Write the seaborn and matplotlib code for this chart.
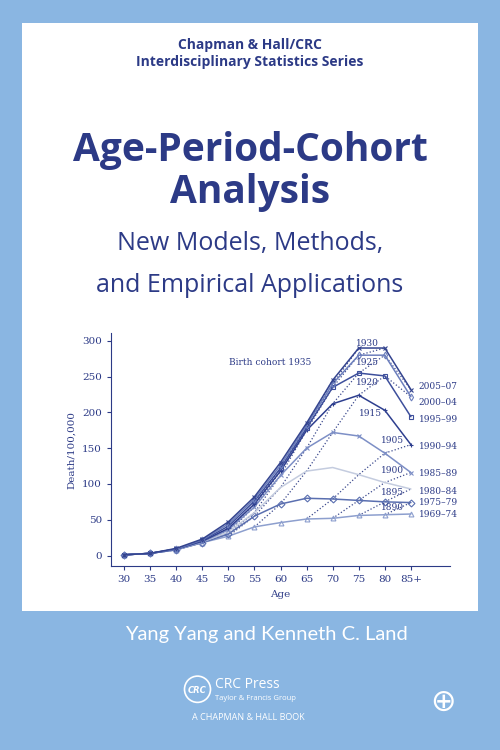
import numpy as np
import pandas as pd
import matplotlib
matplotlib.use("Agg")
import matplotlib.pyplot as plt
import seaborn as sns
from matplotlib.patches import Rectangle, Ellipse

ages = ["30", "35", "40", "45", "50", "55", "60", "65", "70", "75", "80", "85+"]
periods = ["1969–74", "1975–79", "1980–84", "1985–89", "1990–94", "1995–99", "2000–04", "2005–07"]
period_start = [1970, 1975, 1980, 1985, 1990, 1995, 2000, 2005]
age_years = [30, 35, 40, 45, 50, 55, 60, 65, 70, 75, 80, 85]
rates = [
    [1, 3, 8, 18, 27, 40, 46, 51, 52, 56, 57, 58],
    [1, 3, 8, 18, 30, 55, 72, 80, 79, 77, 75, 74],
    [1, 3, 8, 19, 33, 60, 95, 118, 123, 113, 102, 93],
    [1, 3, 8, 19, 36, 68, 112, 150, 172, 167, 143, 116],
    [1, 3, 9, 20, 38, 72, 118, 175, 212, 224, 203, 155],
    [1, 3, 9, 21, 41, 76, 122, 178, 235, 255, 251, 194],
    [1, 3, 9, 22, 44, 79, 126, 182, 240, 280, 280, 222],
    [1, 3, 10, 23, 47, 82, 130, 185, 245, 290, 290, 232],
]
cohorts = [1890, 1895, 1900, 1905, 1915, 1920, 1925, 1930, 1935]
cohort_labels = ["1890", "1895", "1900", "1905", "1915", "1920", "1925", "1930", "Birth cohort 1935"]
cohort_label_pos = [(9.85, 67), (9.85, 88), (9.85, 119), (9.85, 161), (9.0, 199), (8.9, 242), (8.9, 270), (8.9, 297), (7.2, 270)]
# vertical nudges for the period labels at the right end
label_nudge = [0, 0, -3, -2, -2, -4, -8, 4]

colors = ["#8d9fce", "#5a6fb0", "#c4ccdf", "#7d8fc6", "#2e3f8f", "#3d4f9c", "#6c7fbd", "#34448f"]
markers = ["^", "D", None, "x", "+", "s", "d", "x"]

navy = "#2c3a86"
bg = "#8ab6e2"

fig = plt.figure(figsize=(5, 7.5), dpi=100)
fig.patch.set_facecolor(bg)
fig.patches.append(Rectangle((0.044, 0.185), 0.912, 0.785, transform=fig.transFigure,
                             facecolor="white", edgecolor="none", zorder=0))

fig.text(0.5, 0.935, "Chapman & Hall/CRC", ha="center", fontsize=10, fontweight="bold", color=navy, family="Open Sans")
fig.text(0.5, 0.912, "Interdisciplinary Statistics Series", ha="center", fontsize=10, fontweight="bold", color=navy, family="Open Sans")
fig.text(0.5, 0.785, "Age-Period-Cohort", ha="center", fontsize=28, fontweight="bold", color=navy, family="Open Sans")
fig.text(0.5, 0.73, "Analysis", ha="center", fontsize=28, fontweight="bold", color=navy, family="Open Sans")
fig.text(0.5, 0.667, "New Models, Methods,", ha="center", fontsize=18, color=navy, family="Open Sans")
fig.text(0.5, 0.61, "and Empirical Applications", ha="center", fontsize=18, color=navy, family="Open Sans")

fig.text(0.533, 0.147, "Yang Yang and Kenneth C. Land", ha="center", fontsize=14.5, color="white", family="Lato")
fig.patches.append(Ellipse((0.395, 0.081), 0.052, 0.035, transform=fig.transFigure, facecolor="none", edgecolor="white", lw=1.2))
fig.text(0.395, 0.076, "CRC", ha="center", fontsize=6, color="white", style="italic", fontweight="bold")
fig.text(0.43, 0.082, "CRC Press", fontsize=10, color="white", family="Open Sans")
fig.text(0.43, 0.066, "Taylor & Francis Group", fontsize=5.5, color="white", family="Open Sans")
fig.text(0.385, 0.04, "A CHAPMAN & HALL BOOK", fontsize=6.5, color="white", family="Open Sans")
fig.text(0.885, 0.052, "⊕", fontsize=22, color="white", ha="center")

ax = fig.add_axes([0.222, 0.245, 0.678, 0.311])
ax.set_zorder(2)
sns.set_style("white")
x = np.arange(len(ages))
df = pd.DataFrame(rates, index=periods, columns=ages)

# cohort lines (dotted diagonals)
for c in cohorts:
    xs, ys = [], []
    for pi, ps in enumerate(period_start):
        for ai, ay in enumerate(age_years):
            if ps - ay == c:
                xs.append(ai)
                ys.append(rates[pi][ai])
    ax.plot(xs, ys, ls=":", color="#3c4a8e", lw=0.9)

for pi, p in enumerate(periods):
    sns.lineplot(x=x, y=df.loc[p].values, ax=ax, color=colors[pi], lw=1.1,
                 marker=markers[pi], markersize=3.5, mfc="none", mec=colors[pi], mew=0.8)
    ax.text(11.3, rates[pi][-1] + label_nudge[pi], p, fontsize=6.5, color=navy,
            family="DejaVu Serif", va="center")

for lab, (lx, ly) in zip(cohort_labels, cohort_label_pos):
    ax.text(lx, ly, lab, fontsize=6.5, color=navy, family="DejaVu Serif", va="center",
            ha="right" if lab.startswith("Birth") else "left")

ax.set_xlim(-0.5, 12.5)
ax.set_ylim(-15, 311)
ax.set_xticks(x)
ax.set_xticklabels(ages)
ax.set_yticks([0, 50, 100, 150, 200, 250, 300])
ax.tick_params(labelsize=7.5, colors=navy, length=3)
for lab in ax.get_xticklabels() + ax.get_yticklabels():
    lab.set_family("DejaVu Serif")
ax.set_xlabel("Age", fontsize=7.5, color=navy, family="DejaVu Serif")
ax.set_ylabel("Death/100,000", fontsize=7.5, color=navy, family="DejaVu Serif")
for s in ["top", "right"]:
    ax.spines[s].set_visible(False)
for s in ["left", "bottom"]:
    ax.spines[s].set_color(navy)
    ax.spines[s].set_linewidth(0.8)
ax.set_facecolor("white")

fig.savefig("out.png", dpi=100, facecolor=bg)
